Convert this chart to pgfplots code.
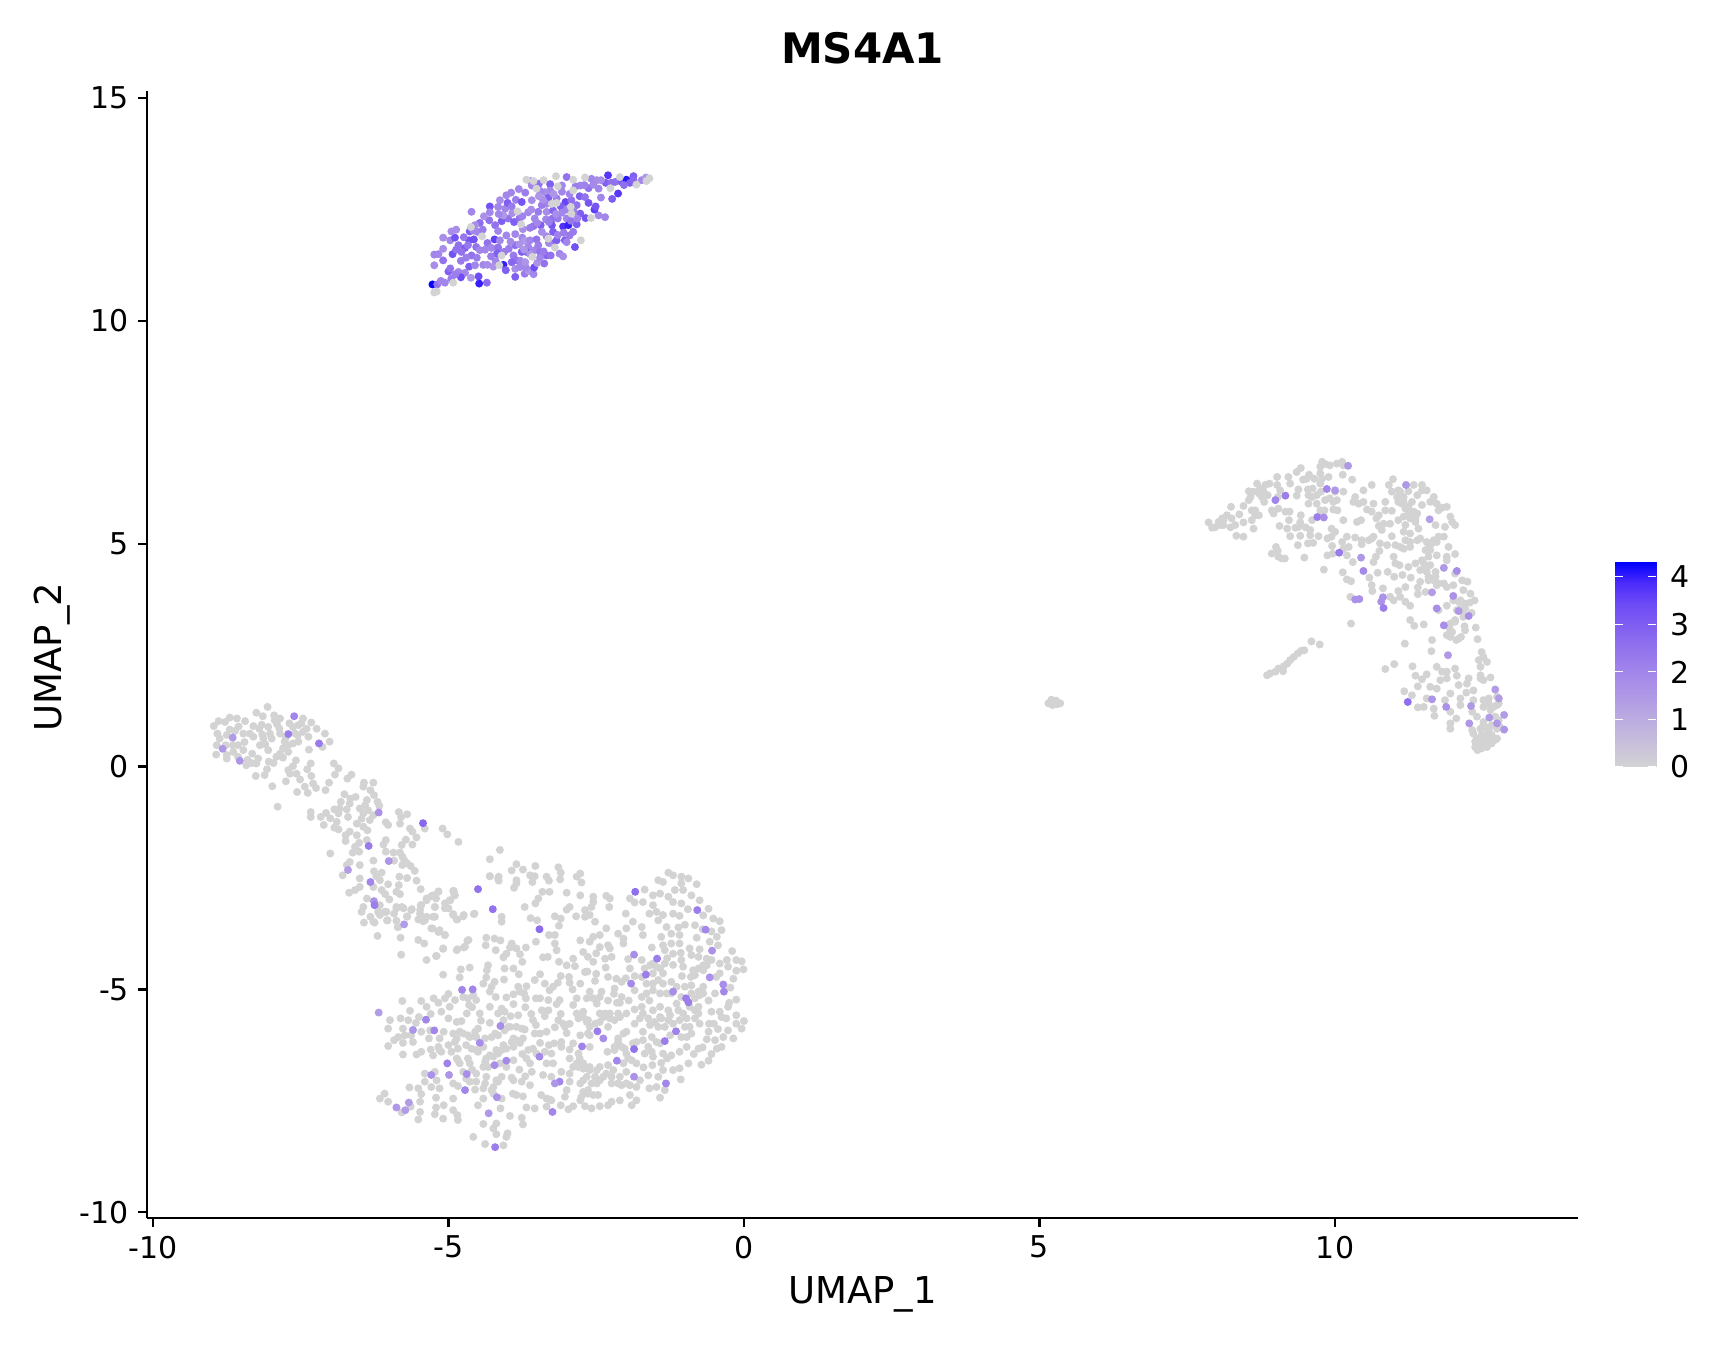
\documentclass[border=0pt]{standalone}
\usepackage{fontspec}
\setmainfont{DejaVu Sans}
\usepackage{pgfplots}
\pgfplotsset{compat=1.18}
\definecolor{lgray}{RGB}{211,211,211}
\pgfplotsset{
  colormap={seurat}{rgb255(0cm)=(211,211,211) rgb255(2cm)=(191,177,223) rgb255(4cm)=(170,144,232)
    rgb255(6cm)=(144,112,238) rgb255(8cm)=(108,74,246) rgb255(9cm)=(75,42,251) rgb255(10cm)=(0,0,255)},
}
\begin{document}
\begin{tikzpicture}
\path[use as bounding box] (-73.5pt,-63pt) rectangle (790.5pt,609pt);
\begin{axis}[
    scale only axis,
    width=715.5pt, height=563.25pt,
    xmin=-10.1, xmax=14.11,
    ymin=-10.13, ymax=15.15,
    axis lines=left,
    axis line style={-, line width=1.15pt},
    tick align=outside,
    major tick length=4.5pt,
    tick style={black, line width=1.1pt},
    xtick={-10,-5,0,5,10}, xticklabels={-10,-5,0,5,10},
    ytick={-10,-5,0,5,10,15}, yticklabels={-10,-5,0,5,10,15},
    tick label style={font=\fontsize{15}{18}\selectfont},
    xticklabel style={yshift=-1pt},
    yticklabel style={xshift=-1pt},
    title={MS4A1},
    title style={font=\fontsize{21}{25}\selectfont\bfseries, at={(axis description cs:0.5,1)}, anchor=center, yshift=15.75pt},
    xlabel={UMAP\_1},
    xlabel style={font=\fontsize{18.5}{22}\selectfont, at={(axis description cs:0.5,0)}, anchor=center, yshift=-38pt},
    ylabel={UMAP\_2},
    ylabel style={font=\fontsize{18.5}{22}\selectfont, at={(axis description cs:-0.066,0.498)}, anchor=center},
    colormap name=seurat,
    point meta min=0, point meta max=4.31,
]
% unexpressing cells
\addplot[only marks, mark=*, mark size=2pt, color=lgray, mark options={draw opacity=0}] coordinates {
% right arc
(7.86,5.48)(7.92,5.36)(7.97,5.37)(8.03,5.49)(8.09,5.57)(8.11,5.42)(8.17,5.64)(8.24,5.83)(8.25,5.57)(8.23,5.37)(8.31,5.42)(8.33,5.18)(8.45,5.16)
(8.38,5.66)(8.45,5.48)(8.45,5.85)(8.54,5.98)(8.54,6.18)(8.59,5.75)(8.59,5.53)(8.62,5.34)(8.65,5.64)(8.71,5.64)(8.68,6.35)(8.71,6.13)(8.79,6.17)
(8.82,6.32)(8.89,6.35)(8.86,6.09)(8.80,5.94)(8.93,5.75)(9.04,5.79)(8.96,5.68)(9.02,6.5)(9.02,6.32)(9.07,6.2)(9.03,6.05)(9.21,6.5)(9.24,6.35)
(9.16,5.72)(9.23,5.72)(9.22,5.53)(9.06,5.40)(9.19,5.34)(9.24,5.17)(9.35,6.61)(9.42,6.70)(9.38,6.22)(9.35,6.08)(9.46,6.44)(9.52,6.46)(9.56,6.55)
(9.54,6.22)(9.62,6.24)(9.65,6.46)(9.55,6.09)(9.55,5.90)(9.42,5.64)(9.41,5.48)(9.38,5.38)(9.33,5.36)(9.41,5.18)(9.37,4.97)(9.50,5.37)(9.58,5.31)
(9.61,5.53)(9.58,5.19)(9.54,5.01)(9.63,5.02)(9.72,5.17)(9.75,6.58)(9.78,6.84)(9.75,6.73)(9.83,6.79)(9.91,6.76)(10.03,6.80)(10.12,6.84)(10.14,6.76)
(10.13,6.55)(10.29,6.44)(9.89,6.50)(9.78,6.46)(9.75,6.35)(9.61,6.05)(9.69,6.09)(9.69,5.90)(9.76,6.17)(9.83,5.98)(9.91,6.02)(10.0,6.17)(10.14,6.17)
(9.97,5.94)(10.03,5.98)(9.97,5.77)(10.04,5.75)(9.75,5.75)(9.82,5.75)(9.78,5.64)(10.14,5.53)(9.94,5.34)(10.0,5.27)(9.87,5.12)(9.94,5.16)(9.95,4.95)
(9.87,4.74)(9.96,4.78)(9.48,4.69)(9.10,4.67)(9.15,4.67)(9.04,4.71)(8.93,4.78)(9.0,4.93)(9.03,4.84)(10.12,5.04)(10.2,5.16)(10.34,5.14)(10.45,5.08)
(10.45,4.99)(10.23,4.93)(10.14,4.89)(10.2,4.74)(10.3,4.59)(10.65,4.59)(10.69,4.71)(10.75,4.84)(10.76,5.01)(10.62,5.12)(10.57,5.08)(10.65,5.16)
(10.96,5.17)(10.88,4.97)(11.02,4.97)(11.1,4.93)(11.19,5.08)(11.27,5.04)(11.39,5.08)(11.44,5.12)(11.55,5.04)(11.64,5.01)(11.72,5.04)(11.75,5.16)
(11.84,5.16)(11.92,4.93)(12.03,4.77)(11.89,4.71)(11.72,4.74)(11.58,4.71)(11.53,4.86)(11.27,4.93)(11.16,4.89)(10.99,4.71)(11.02,4.56)(11.09,4.52)
(11.24,4.48)(11.36,4.56)(11.47,4.63)(11.61,4.52)(11.44,4.41)(11.55,4.45)(11.58,4.26)(11.70,4.26)(11.89,4.63)(12.03,4.33)(12.15,4.18)(12.24,4.15)
(11.89,4.03)(12.0,4.07)(12.17,3.96)(12.29,3.88)(12.36,3.73)(12.28,3.68)(12.0,3.73)(12.09,3.70)(11.89,3.61)(11.75,3.51)(12.12,3.55)(12.2,3.55)
(12.31,3.45)(12.17,3.36)(11.95,3.21)(12.03,3.29)(12.19,3.15)(12.2,3.06)(12.38,3.12)(11.92,3.14)(11.98,3.02)(11.89,2.95)(11.95,2.91)(12.05,2.84)
(12.13,2.91)(12.41,2.86)(10.34,6.05)(10.31,5.94)(10.4,5.9)(10.48,6.2)(10.62,6.32)(10.48,5.94)(10.65,5.9)(10.54,5.77)(10.62,5.72)(10.74,5.64)
(10.85,5.94)(10.85,5.75)(10.96,5.74)(10.70,5.57)(10.37,5.49)(10.44,5.53)(10.74,5.40)(10.82,5.45)(10.93,5.45)(10.79,5.31)(10.91,6.32)(10.98,6.45)
(10.96,6.17)(11.07,6.2)(11.05,6.05)(11.16,6.05)(11.24,6.18)(11.33,6.32)(11.47,6.32)(11.39,6.09)(11.47,6.2)(11.55,6.2)(11.61,5.94)(11.67,6.05)
(11.72,5.9)(11.07,5.94)(11.13,5.9)(11.19,5.79)(11.3,5.94)(11.24,5.68)(11.39,5.68)(11.47,5.87)(11.07,5.53)(11.16,5.61)(11.27,5.57)(11.36,5.49)
(11.16,5.27)(11.27,5.23)(11.41,5.34)(11.70,5.42)(11.86,5.38)(12.03,5.42)(11.95,5.61)(11.98,5.49)(11.89,5.83)(11.75,5.75)(11.81,5.81)
(11.27,3.29)(11.34,3.16)(11.5,3.19)(11.18,2.76)(11.64,2.84)(11.63,2.59)(12.48,2.57)(12.43,2.39)(12.57,2.35)(12.46,2.24)(12.46,2.05)(12.51,1.94)
(12.63,2.0)(10.85,2.19)(11.0,2.3)(11.31,2.25)(11.72,2.24)(12.03,2.2)(11.36,2.04)(11.55,2.07)(11.47,1.96)(11.81,2.13)(11.89,2.13)(11.78,1.94)
(11.89,1.98)(12.06,2.04)(11.72,1.75)(11.61,1.79)(11.40,1.8)(11.17,1.69)(11.3,1.6)(11.55,1.53)(11.67,1.3)(11.40,1.33)(11.5,1.34)(11.68,1.14)
(11.86,1.49)(11.95,1.23)(12.09,1.83)(12.23,1.86)(12.26,1.98)(12.22,1.66)(11.95,1.64)(12.12,1.53)(12.12,1.38)(12.05,1.08)(11.95,.97)(11.95,.85)
(12.34,1.71)(12.34,1.49)(12.51,1.49)(12.6,1.53)(12.74,1.57)(12.57,1.42)(12.51,1.34)(12.74,1.38)(12.32,1.23)(12.4,1.12)(12.51,1.0)(12.54,.89)
(12.46,.85)(12.65,.93)(12.79,.89)(12.77,1.04)(12.32,.82)(12.34,.74)(12.37,.56)(12.37,.44)(12.41,.37)(12.48,.41)(12.57,.44)(12.65,.52)(12.74,.63)
(12.46,.6)(12.54,.6)(12.63,.67)(12.48,.71)(12.57,.74)
(8.85,2.05)(8.9,2.09)(8.99,2.13)(9.04,2.2)(9.12,2.14)(9.13,2.25)(9.19,2.31)(9.24,2.39)(9.3,2.46)(9.37,2.54)(9.43,2.6)(9.48,2.61)(9.6,2.81)(9.74,2.74)(10.27,3.21)
(9.81,4.42)(10.13,4.36)(10.2,4.2)(10.27,4.16)(10.58,4.24)(10.62,4.07)(10.63,3.94)(10.72,4.35)(10.89,4.37)(11,4.26)(11.14,4.3)(11.28,4.24)(10.81,4.0)
(11.19,4.03)(11.07,3.94)(11.4,4.02)(11.44,4.15)(11.4,3.87)(11.53,3.92)(10.93,3.81)(10.99,3.73)(11.1,3.81)(11.19,3.7)(11.27,3.61)(10.26,3.81)(11.75,4.11)
(11.1,6.17)(11.16,5.94)(11.24,5.83)(11.33,5.72)(11.36,5.57)(11.19,5.42)(11.58,5.01)(11.67,5.08)(11.61,4.86)(11.5,4.56)(11.55,4.37)(11.7,4.37)(11.67,4.18)
(11.58,4.18)(11.72,4.07)(11.84,4.11)(12.12,3.73)(12.2,3.66)(12.17,3.51)(12.06,3.51)(12.03,3.25)(11.95,3.06)(12.09,2.87)(12.51,2.46)(12.46,1.98)(12.6,1.42)
(12.68,1.34)(12.77,1.42)(12.63,1.27)(12.71,1.12)(12.51,.93)(12.6,.82)(12.74,.85)(12.65,.71)(12.51,.48)(12.43,.48)(12.63,.56)(12.71,.6)(12.4,.63)
(8.11,5.53)(8.06,5.42)(8.65,5.75)(8.57,6.05)(8.62,6.17)(8.73,6.24)(8.76,6.05)
% small island
(5.15,1.42)(5.2,1.5)(5.25,1.45)(5.3,1.4)(5.35,1.42)(5.22,1.38)(5.28,1.48)
% left tail
(-8.06,1.34)(-8.25,1.21)(-8.14,1.13)(-7.95,1.15)(-7.85,1.08)(-7.94,1.04)(-7.46,1.08)(-7.32,.99)(-7.49,.97)(-7.23,.85)(-7.09,.74)(-7.4,.85)(-7.54,.93)
(-7.69,.97)(-7.63,.89)(-7.86,.85)(-8.05,.89)(-8.16,.94)(-8.3,.91)(-8.44,1.02)(-8.58,1.08)(-8.70,1.10)(-8.78,1.0)(-8.89,1.02)(-8.97,.91)(-8.91,.74)
(-8.87,.63)(-8.75,.71)(-8.70,.83)(-8.61,.80)(-8.47,.74)(-8.36,.74)(-8.3,.67)(-8.13,.63)(-8.19,.48)(-8.02,.74)(-7.99,.63)(-7.85,.74)(-7.77,.56)
(-7.71,.48)(-7.8,.41)(-7.71,.33)(-7.54,.56)(-7.63,.52)(-7.46,.78)(-7.37,.67)(-7.01,.56)(-7.13,.44)(-7.36,.38)(-8.92,.48)(-8.93,.27)(-8.77,.48)
(-8.75,.26)(-8.75,.18)(-8.64,.33)(-8.56,.48)(-8.47,.37)(-8.56,.22)(-8.32,.29)(-8.42,.03)(-8.33,.08)(-8.25,.07)(-8.22,.18)(-8.05,.37)(-7.85,.29)
(-7.91,.22)(-8.04,.11)(-7.96,.08)(-7.58,.14)(-7.33,.07)(-8.07,-.06)(-8.11,-.19)(-8.26,-.21)(-7.98,-.44)(-7.75,-.33)(-7.71,-.08)(-7.63,.01)(-7.68,-.16)
(-7.57,-.16)(-7.51,-.29)(-7.56,-.57)(-7.38,-.59)(-7.43,-.45)(-7.39,-.06)(-7.32,-.21)(-7.29,-.38)(-7.24,-.48)(-7.02,-.36)(-7.08,-.53)(-6.94,.07)
(-6.86,-.04)(-6.92,-.18)(-6.64,-.18)(-6.71,-.27)(-6.43,-.36)(-6.44,-.45)(-6.27,-.36)(-6.32,-.53)(-6.26,-.64)(-6.76,-.62)(-6.82,-.79)(-6.66,-.72)
(-6.57,-.68)(-6.67,-.83)(-6.38,-.75)(-6.2,-.79)(-6.17,-.88)(-7.89,-.9)(-7.33,-1.02)(-7.33,-1.13)(-7.16,-1.13)(-7.07,-1.04)(-7.0,-1.16)(-7.11,-1.31)
(-6.93,-.96)(-6.86,-1.05)(-6.84,-.94)(-6.72,-.96)(-6.7,-1.13)(-6.89,-1.24)(-6.93,-1.37)(-6.86,-1.41)(-6.5,-.94)(-6.41,-.87)(-6.36,-.98)(-6.44,-1.05)
(-6.27,-1.09)(-6.33,-1.2)(-6.47,-1.17)(-6.55,-1.28)(-6.44,-1.35)(-6.37,-1.43)(-6.74,-1.54)(-6.74,-1.67)(-6.67,-1.46)(-6.55,-1.54)(-6.38,-1.65)
(-6.51,-1.71)(-6.58,-1.8)(-6.62,-1.93)(-6.51,-1.91)(-7.0,-1.95)(-6.67,-2.14)(-6.72,-2.21)(-6.79,-2.44)(-6.5,-2.21)(-6.27,-2.11)(-6.26,-2.35)
(-6.13,-2.38)(-6.22,-2.46)(-6.5,-2.51)(-6.5,-2.7)(-6.58,-2.77)(-6.68,-2.83)(-6.27,-2.7)(-6.16,-2.55)(-6.02,-2.64)(-6.13,-2.77)(-6.07,-2.86)(-6.0,-2.98)
(-5.84,-2.66)(-5.88,-2.81)(-5.82,-2.86)(-5.83,-2.47)(-5.7,-2.5)(-5.54,-2.56)(-5.47,-2.75)(-6.38,-2.96)(-6.44,-3.15)(-6.47,-3.26)(-6.32,-3.37)
(-6.43,-3.5)(-6.25,-3.5)(-6.16,-3.11)(-6.16,-3.33)(-6.05,-3.26)(-6.03,-3.45)(-5.88,-3.15)(-5.76,-3.18)(-5.62,-3.2)(-5.92,-3.3)(-5.88,-3.46)(-5.86,-3.6)
(-5.7,-3.37)(-5.51,-3.43)(-5.43,-3.47)(-5.47,-3.11)(-5.48,-3.3)(-5.37,-3.37)(-5.23,-3.37)(-5.37,-3.0)(-5.29,-2.91)(-5.21,-2.96)(-5.17,-2.81)
(-5.23,-3.15)(-5.06,-3.18)(-4.97,-3.0)(-4.91,-2.79)(-4.9,-2.88)(-4.92,-3.31)(-4.86,-3.43)(-4.75,-3.36)(-4.57,-3.31)(-4.3,-2.08)(-4.3,-2.46)(-4.16,-2.51)
(-4.13,-1.87)(-6.2,-3.8)(-5.81,-3.84)(-5.8,-4.22)(-5.51,-3.89)(-5.41,-3.97)(-5.27,-3.63)(-5.17,-3.71)(-5.06,-3.78)(-5.09,-4.08)(-4.86,-4.12)(-4.72,-4.04)
(-4.66,-3.89)(-5.37,-4.34)(-5.2,-4.25)(-5.84,-1.02)(-5.7,-1.07)(-5.8,-1.13)(-5.82,-1.28)(-6.02,-1.31)(-6.06,-1.25)(-5.65,-1.39)(-5.61,-1.46)(-5.54,-1.59)
(-5.72,-1.64)(-5.79,-1.76)(-5.61,-1.75)(-5.4,-1.39)(-5.1,-1.39)(-5.02,-1.52)(-4.83,-1.69)(-6.06,-1.65)(-6.1,-1.75)(-6.06,-1.91)(-5.93,-1.93)(-5.82,-1.93)
(-5.78,-2.02)(-5.75,-2.1)(-5.7,-2.17)(-5.64,-2.23)(-5.57,-2.34)(-5.92,-2.11)(-5.78,-2.21)
(-8.55,.9)(-8.45,.55)(-8.2,.85)(-8.15,.72)(-7.9,.95)(-7.75,.65)(-7.6,.75)(-7.55,.7)(-7.8,.2)(-8.1,.5)(-8.4,.15)(-8.65,.48)
% lower body
(-3.85,-2.19)(-3.93,-2.33)(-3.74,-2.31)(-3.53,-2.23)(-3.14,-2.26)(-3.1,-2.38)(-2.77,-2.4)(-2.83,-2.47)(-2.75,-2.6)(-4.3,-2.46)(-4.15,-2.47)(-4.15,-2.56)
(-3.85,-2.55)(-3.85,-2.62)(-3.89,-2.72)(-3.62,-2.44)(-3.54,-2.46)(-3.58,-2.59)(-3.34,-2.47)(-3.3,-2.56)(-3.11,-2.53)(-3.0,-2.83)(-2.77,-2.89)(-3.29,-2.81)
(-3.41,-2.81)(-3.48,-2.96)(-3.53,-3.07)(-3.71,-3.15)(-2.95,-3.15)(-3.0,-3.21)(-2.55,-2.92)(-2.55,-3.04)(-2.58,-3.15)(-2.33,-2.9)(-2.27,-2.96)(-2.28,-3.15)
(-2.69,-3.22)(-2.69,-3.37)(-2.61,-3.33)(-2.84,-3.36)(-2.52,-3.48)(-3.2,-3.36)(-3.1,-3.41)(-3.13,-3.57)(-3.61,-3.4)(-3.5,-3.45)(-4.1,-3.37)(-4.1,-3.48)
(-4.56,-3.3)(-4.74,-3.33)(-4.85,-3.43)(-4.92,-3.33)(-4.92,-2.79)(-4.89,-2.89)(-5.17,-2.8)(-5.26,-2.89)(-5.37,-2.96)(-4.98,-3.0)(-5.06,-3.07)(-5.0,-3.18)
(-5.23,-3.15)(-5.46,-3.11)(-5.48,-3.22)(-5.26,-3.37)(-5.48,-3.41)(-5.4,-3.45)(-5.63,-3.22)(-5.79,-3.15)(-5.88,-3.18)(-6.08,-3.26)(-6.19,-3.26)(-6.27,-3.48)
(-6.04,-3.45)(-5.85,-3.6)(-5.7,-3.36)(-5.29,-3.63)(-5.15,-3.67)(-5.06,-3.78)(-5.09,-4.09)(-4.85,-4.1)(-4.74,-4.06)(-4.68,-3.91)(-5.21,-4.25)
(-4.36,-3.84)(-4.37,-4.01)(-4.22,-3.86)(-4.12,-3.9)(-4.2,-4.12)(-3.93,-3.97)(-3.96,-4.06)(-3.85,-4.08)(-3.69,-4.06)(-4.02,-4.2)(-4.07,-4.28)(-3.79,-4.21)
(-3.75,-4.38)(-3.52,-3.93)(-3.2,-3.78)(-3.3,-3.78)(-3.2,-3.97)(-3.17,-4.12)(-3.4,-4.28)(-3.32,-4.27)(-3.13,-4.38)(-3.0,-4.46)(-2.86,-4.48)(-2.89,-4.31)
(-2.77,-3.9)(-2.61,-3.93)(-2.55,-3.82)(-2.44,-3.78)(-2.33,-3.63)(-2.72,-4.16)(-2.64,-4.27)(-2.5,-4.19)(-2.44,-4.05)(-2.3,-4.01)(-2.27,-4.08)(-2.55,-4.38)
(-2.35,-4.31)(-2.24,-4.27)(-2.34,-4.51)(-2.13,-3.75)(-2.04,-3.86)(-2.04,-3.97)(-1.99,-3.63)(-1.88,-3.48)(-2.0,-3.3)(-1.73,-3.6)(-1.71,-3.78)(-1.93,-2.96)
(-1.85,-3.05)(-1.68,-2.76)(-1.71,-3.04)(-1.54,-2.89)(-1.42,-2.85)(-1.45,-2.55)(-1.37,-2.59)(-1.28,-2.38)(-1.2,-2.44)(-1.06,-2.47)(-.94,-2.51)(-1.06,-2.62)
(-.8,-2.64)(-1.03,-2.77)(-1.17,-2.77)(-.89,-2.89)(-.75,-3.0)(-1.28,-2.92)(-1.2,-3.04)(-1.06,-3.07)(-1.54,-3.11)(-1.48,-3.26)(-1.37,-3.33)(-1.6,-3.3)
(-1.45,-3.45)(-1.09,-3.35)(-1.31,-3.6)(-1.11,-3.61)(-1.23,-3.75)(-1.40,-3.82)(-1.09,-3.78)(-1.37,-4.01)(-1.23,-3.97)(-1.09,-3.97)(-1.56,-4.06)(-1.34,-4.12)
(-1.2,-4.2)(-1.07,-4.18)(-.92,-4.08)(-.89,-4.23)(-.75,-4.1)(-.77,-4.27)(-.83,-3.56)(-.8,-3.84)(-.58,-3.93)(-.46,-3.82)(-.38,-3.67)(-.41,-3.47)(-.52,-3.41)
(-.6,-3.19)(-.69,-3.34)(-.2,-4.14)(-.44,-4.01)(-.63,-4.31)(-.55,-4.34)
(-4.33,-4.46)(-4.35,-4.57)(-4.64,-4.51)(-4.79,-4.55)(-4.81,-4.73)(-5.09,-4.67)(-4.36,-4.73)(-4.41,-4.87)(-4.22,-4.83)(-4.27,-4.94)(-4.3,-5.05)(-4.2,-5.17)
(-4.05,-4.53)(-3.9,-4.53)(-3.81,-4.66)(-4.06,-4.78)(-3.45,-4.66)(-3.54,-4.79)(-3.37,-4.87)(-3.23,-4.94)(-3.29,-5.02)(-3.68,-4.93)(-3.82,-4.94)(-3.79,-5.05)
(-3.72,-5.09)(-3.9,-5.11)(-4.02,-5.18)(-3.69,-5.2)(-3.9,-5.33)(-3.52,-5.2)(-3.45,-5.2)(-3.12,-5.24)(-3.17,-5.33)(-3.31,-5.24)(-2.96,-4.72)(-2.95,-4.85)
(-2.77,-4.87)(-2.69,-4.61)(-2.52,-4.81)(-2.3,-4.72)(-2.16,-4.76)(-2.07,-4.83)(-2.19,-4.98)(-2.61,-5.05)(-2.41,-5.05)(-2.44,-5.17)(-2.55,-5.2)(-2.66,-5.2)
(-2.83,-5.2)(-2.89,-5.35)(-2.49,-5.32)(-2.07,-5.17)(-2.1,-5.3)(-1.85,-5.02)(-1.93,-4.53)(-1.96,-4.32)(-1.73,-4.34)(-1.59,-4.46)(-1.48,-4.49)(-1.34,-4.42)
(-1.54,-4.64)(-1.68,-4.53)(-1.73,-4.72)(-1.45,-4.79)(-1.65,-4.87)(-1.37,-4.64)(-1.23,-4.83)(-1.14,-4.94)(-1.0,-4.94)(-.89,-4.91)(-1.03,-4.49)(-1.06,-4.34)
(-.77,-4.53)(-.69,-4.46)(-.83,-4.68)(-.41,-4.42)(-.29,-4.34)(-.13,-4.34)(-.04,-4.37)(-.01,-4.55)(-.13,-4.58)(-.27,-4.49)(-.41,-4.64)(-.18,-4.76)(-.23,-4.96)
(-.47,-4.72)(-.69,-4.94)(-.77,-5.05)(-.69,-5.09)(-.83,-5.2)(-.49,-5.09)(-.13,-5.23)(-.27,-5.39)(-.55,-5.5)(-.41,-5.5)(-.38,-5.62)(-.13,-5.58)(-.0,-5.71)
(-.13,-5.77)(-.27,-5.92)(-.04,-5.88)(-.44,-5.89)(-.18,-6.1)(-.35,-6.07)(-.49,-6.14)(-.63,-6.12)(-.46,-6.33)(-.38,-6.29)(-.59,-5.77)(-.51,-5.77)(-.75,-5.77)
(-.92,-5.84)(-.89,-5.99)(-.97,-5.65)(-.77,-5.54)(-.83,-5.47)(-1.03,-5.54)(-1.11,-5.47)(-1.25,-5.58)(-1.42,-5.62)(-1.54,-5.47)(-1.71,-5.54)(-1.85,-5.77)
(-1.59,-5.8)(-1.45,-5.84)(-1.34,-5.84)(-1.71,-5.95)(-1.56,-6.07)(-1.42,-6.21)(-1.99,-5.95)(-2.13,-5.54)(-2.27,-5.54)(-2.35,-5.54)(-2.19,-5.69)(-2.3,-5.84)
(-2.44,-5.73)(-2.66,-5.73)(-2.61,-5.84)(-2.83,-5.54)(-2.72,-5.5)(-2.95,-5.77)(-3.03,-5.84)(-3.14,-5.69)(-3.31,-5.47)(-3.42,-5.47)(-3.37,-5.6)(-3.57,-5.69)
(-3.52,-5.8)(-3.82,-5.58)(-3.85,-5.84)(-3.71,-5.9)(-3.96,-5.84)(-4.1,-5.43)(-4.3,-5.39)(-4.16,-5.54)(-4.07,-5.69)(-4.47,-5.54)(-4.53,-5.24)(-4.58,-5.13)
(-4.67,-5.2)(-4.75,-5.17)(-4.89,-5.24)(-5.06,-5.2)(-5.17,-5.3)(-4.98,-5.39)(-5.12,-5.5)(-5.0,-5.65)(-4.86,-5.73)(-4.78,-5.71)(-4.69,-5.54)(-5.46,-5.26)
(-5.37,-5.39)(-5.78,-5.26)(-5.65,-5.48)(-5.81,-5.65)(-5.99,-5.69)(-6.02,-5.88)(-5.77,-5.88)(-5.68,-5.69)(-5.5,-5.62)(-5.46,-5.95)(-5.31,-5.92)(-5.63,-6.03)
(-5.74,-6.03)(-5.85,-6.07)(-5.92,-6.14)(-5.77,-6.2)(-5.6,-6.18)(-5.33,-6.1)(-5.15,-6.1)(-5.08,-5.95)(-6.02,-6.27)(-5.77,-6.46)(-5.54,-6.46)(-5.46,-6.4)
(-5.26,-6.48)(-5.17,-6.29)(-5.12,-6.4)(-4.92,-5.99)(-4.81,-5.95)(-4.89,-6.18)(-4.67,-6.03)(-4.53,-6.07)(-4.5,-5.88)(-4.27,-6.07)(-4.16,-6.03)(-4.05,-5.92)
(-3.9,-6.1)(-3.74,-6.1)(-3.79,-6.2)(-3.9,-6.29)(-4.02,-6.33)(-4.16,-6.44)(-4.3,-6.48)(-4.41,-6.29)(-4.5,-6.4)(-4.61,-6.33)(-4.84,-6.59)(-4.67,-6.55)
(-4.38,-6.63)(-4.33,-6.74)(-4.13,-6.66)(-3.9,-6.59)(-4.02,-6.74)(-3.65,-6.36)(-3.57,-6.33)(-3.68,-6.55)(-3.51,-6.44)(-3.62,-6.66)(-3.59,-6.85)(-3.37,-6.4)
(-3.26,-6.44)(-3.21,-6.21)(-3.09,-6.18)(-3.09,-6.29)(-2.89,-6.21)(-2.77,-6.03)(-2.64,-5.99)(-2.61,-6.29)(-2.8,-6.44)(-2.89,-6.74)(-2.8,-6.74)(-2.72,-6.66)
(-2.95,-6.89)(-3.09,-6.85)(-3.34,-6.66)(-3.23,-6.66)(-3.4,-6.92)(-3.26,-6.96)(-2.95,-7.07)(-2.72,-7.04)(-2.77,-7.11)(-2.61,-6.81)(-2.44,-6.74)(-2.3,-6.7)
(-2.21,-6.81)(-2.04,-6.66)(-1.9,-6.59)(-1.82,-6.66)(-1.99,-6.44)(-2.07,-6.29)(-2.19,-6.36)(-2.31,-6.4)(-1.88,-6.21)(-1.68,-6.44)(-1.54,-6.51)(-1.37,-6.44)
(-1.23,-6.48)(-1.09,-6.4)(-.97,-6.29)(-.77,-6.33)(-.72,-6.69)(-.6,-6.6)(-.94,-6.66)(-1.09,-6.77)(-1.2,-6.81)(-1.37,-6.81)(-1.45,-6.96)(-1.62,-6.93)(-1.76,-7.04)
(-1.6,-7.22)(-1.48,-7.19)(-1.34,-7.26)(-1.07,-7.02)(-1.42,-7.43)(-1.93,-7.37)(-1.82,-7.49)(-1.9,-7.6)(-2.1,-7.49)(-2.07,-7.15)(-1.93,-7.15)(-2.24,-7.11)
(-2.38,-6.96)(-2.49,-7.11)(-2.64,-7.26)(-2.47,-7.37)(-2.75,-7.41)(-2.77,-7.49)(-2.69,-7.62)(-2.58,-7.67)(-2.44,-7.62)(-2.3,-7.6)(-2.24,-7.52)(-2.89,-7.62)
(-2.97,-7.69)(-3.1,-7.6)(-3.0,-7.26)(-3.03,-7.41)(-3.34,-7.63)(-3.29,-7.47)(-3.43,-7.37)(-3.54,-7.67)(-3.68,-7.65)(-3.74,-7.4)(-3.91,-7.34)(-3.62,-7.15)
(-3.76,-7.07)(-3.93,-6.98)(-4.1,-6.96)(-4.16,-7.07)(-4.24,-7.19)(-4.36,-6.96)(-4.53,-6.89)(-4.53,-7.07)(-4.41,-7.22)(-4.55,-7.25)(-4.24,-7.34)(-4.41,-7.45)
(-4.5,-7.6)(-4.1,-7.45)(-4.12,-7.67)(-3.96,-7.84)(-3.76,-7.88)(-3.74,-8.03)(-4.41,-8.02)(-4.19,-8.01)(-4.24,-8.12)(-4.19,-8.25)(-4.0,-8.23)(-4.02,-8.31)
(-4.58,-8.31)(-4.38,-8.47)(-4.07,-8.5)(-5.51,-7.22)(-5.66,-7.2)(-5.46,-7.35)(-5.48,-7.52)(-5.48,-7.75)(-5.51,-7.92)(-6.08,-7.34)(-6.16,-7.45)(-6.02,-7.52)
(-5.79,-7.76)(-5.64,-7.63)(-5.21,-7.43)(-5.21,-7.65)(-5.23,-7.8)(-5.08,-7.6)(-5.09,-7.9)(-4.92,-7.45)(-4.92,-7.71)(-4.85,-7.82)(-4.84,-7.93)(-5.4,-6.89)
(-5.23,-6.85)(-5.4,-7.07)(-5.29,-7.19)(-5.15,-7.22)(-5.2,-7.04)(-4.92,-7.11)(-4.84,-7.17)(-4.75,-6.85)
% denser parts of the lower body
(-1.76,-5.65)(-1.62,-5.65)(-1.51,-5.73)(-1.4,-5.65)(-1.28,-5.69)(-1.2,-5.77)(-1.09,-5.69)(-1.0,-5.84)(-.83,-5.65)(-1.06,-6.07)(-.97,-6.07)(-1.25,-6.03)
(-1.48,-6.18)(-1.62,-6.29)(-1.56,-6.4)(-1.71,-6.14)(-1.82,-6.18)(-2.13,-6.18)(-2.19,-6.29)(-2.02,-6.33)(-1.96,-6.55)(-1.99,-6.85)(-2.1,-6.96)(-2.13,-7.11)
(-1.99,-7.11)(-1.82,-7.19)(-2.72,-6.78)(-2.61,-6.74)(-2.49,-6.81)(-2.66,-6.96)(-2.52,-6.96)(-2.58,-7.11)(-2.44,-7.04)(-2.33,-6.89)(-2.24,-6.96)(-2.78,-6.55)
(-2.95,-6.55)(-2.83,-6.66)(-2.64,-7.34)(-2.55,-7.37)(-2.72,-7.3)(-3.34,-7.45)(-3.26,-7.49)(-3.9,-7.04)(-3.85,-7.37)(-4.19,-7.04)(-4.27,-7.26)(-4.38,-7.11)
(-4.64,-7.07)(-4.19,-6.36)(-4.1,-6.36)(-4.24,-6.51)(-4.36,-6.55)(-4.41,-6.74)(-4.64,-6.66)(-4.81,-6.66)(-4.86,-6.55)(-5.15,-6.36)(-4.84,-6.33)(-4.86,-6.1)
(-4.75,-5.99)(-4.64,-6.07)(-4.53,-6.36)(-4.38,-6.1)(-4.21,-5.99)(-3.99,-5.84)(-3.76,-5.88)(-3.93,-6.18)(-4.07,-6.25)(-3.85,-6.14)(-3.45,-5.99)(-3.34,-5.95)
(-3.54,-5.99)(-2.8,-5.65)(-2.72,-5.62)(-3.06,-5.77)(-2.64,-5.69)(-2.44,-5.54)(-2.38,-5.62)(-2.52,-5.77)(-2.61,-6.03)(-2.27,-5.65)(-2.1,-5.62)(-1.99,-5.54)
(-2.04,-5.99)(-2.13,-6.1)(-.69,-4.57)(-.63,-4.46)(-.86,-4.57)(-1.54,-4.42)(-1.42,-4.53)(-1.54,-4.87)(-1.65,-5.09)(-1.73,-5.17)(-1.54,-5.02)(-1.42,-5.09)
(-1.31,-5.09)(-1.37,-4.87)(-1.14,-5.32)(-1.06,-5.17)(-.89,-5.09)(-.75,-5.13)(-.92,-5.39)(-.77,-5.39)(-1.23,-5.09)(-1.28,-5.47)(-1.42,-5.39)(-1.73,-5.39)
(-3.1,-5.55)(-3.2,-5.85)(-3.0,-5.98)(-3.45,-6.2)(-3.3,-6.25)(-2.95,-6.35)(-4.6,-5.4)(-4.45,-5.7)(-4.3,-5.75)(-4.55,-5.95)(-4.05,-5.5)(-3.7,-5.4)(-3.6,-5.55)
(-3.95,-5.6)(-5.3,-5.55)(-5.25,-5.2)(-5.0,-5.1)(-4.65,-5.35)(-5.55,-5.75)(-5.3,-6.35)(-4.95,-6.4)(-5.0,-6.25)(-4.7,-6.25)(-3.75,-6.45)(-3.8,-6.8)(-3.7,-6.95)
(-4.6,-6.8)(-4.7,-7.0)(-2.15,-5.3)(-2.3,-5.25)(-2.2,-5.1)(-2.65,-4.6)(-2.5,-4.65)(-3.1,-4.7)(-3.15,-4.85)(-2.9,-5.0)(-1.85,-4.7)(-2.0,-4.75)(-.6,-5.25)(-.3,-5.65)
(-.25,-5.3)(-.6,-5.95)(-.7,-6.3)(-.85,-6.45)(-.55,-6.45)(-1.3,-6.55)(-1.4,-6.65)(-1.55,-6.7)(-1.7,-6.75)(-1.6,-5.25)(-1.85,-5.45)(-1.95,-5.25)(-1.3,-4.3)
(-1.2,-4.45)(-1.05,-4.7)(-.9,-4.72)(-1.2,-3.3)(-1.0,-3.55)(-.95,-3.2)(-.7,-3.65)(-.55,-3.7)
};
% expressing cells, colour by level
\addplot[scatter, only marks, mark=*, mark size=2pt, scatter/use mapped color={draw opacity=0, fill=mapped color}, point meta=explicit] coordinates {
(-5.27,10.82)[4.3](-5.19,10.82)[2.5](-5.06,10.86)[2](-5.0,11.11)[3](-5.24,11.25)[1.8](-5.09,11.36)[2.5](-5.24,11.49)[2](-5.17,11.5)[2](-5.09,11.62)[1.8]
(-4.93,11.5)[3.3](-5.09,11.87)[1.8](-4.97,11.81)[2](-4.89,11.87)[3.3](-4.95,12.01)[1.8](-4.87,12.05)[1.8](-4.83,11.7)[2.5](-4.72,11.64)[3](-4.78,11.55)[2.5]
(-4.79,11.35)[2.3](-4.65,11.81)[3.2](-4.64,12.01)[3](-4.61,12.45)[2](-4.51,12.0)[2](-4.47,12.2)[2.6](-4.57,11.83)[3.3](-4.53,11.66)[2.5](-4.47,11.59)[2]
(-4.61,11.47)[2.5](-4.52,11.42)[2.2](-4.65,11.22)[3](-4.55,11.25)[2](-4.41,11.26)[2](-4.34,11.26)[1.8](-4.83,11.1)[2](-4.72,11.08)[2](-4.79,10.98)[3.4]
(-4.95,10.95)[2.3](-4.62,10.97)[1.5](-4.49,11.0)[3.4](-4.48,10.84)[4](-4.35,10.86)[2.7](-4.3,12.57)[3.3](-4.3,12.44)[2](-4.31,12.26)[2.5](-4.22,11.83)[3.6]
(-4.34,11.75)[2.5](-4.27,11.64)[2](-4.16,11.65)[2.5](-4.06,11.55)[2.3](-4.16,11.51)[3](-4.21,12.15)[2.5](-4.16,12.02)[2](-4.1,12.24)[3](-3.99,12.3)[2.5]
(-3.89,12.22)[3](-3.8,12.3)[2.5](-3.74,12.06)[1.8](-4.07,12.37)[1.5](-4.13,12.71)[1.8](-4.16,12.56)[2](-4.04,12.52)[2](-4.0,12.65)[3](-3.93,12.57)[2.3]
(-4.02,12.82)[2](-3.94,12.88)[2](-3.81,12.96)[2](-3.7,12.88)[2.2](-3.86,12.72)[2.2](-3.76,12.67)[3.2](-3.65,12.44)[2](-3.59,12.71)[1.8](-3.61,13.14)[1.8]
(-3.59,13.04)[2](-3.47,13.08)[2.6](-3.28,13.07)[3](-3.0,13.23)[2.5](-3.08,13.04)[2](-3.28,12.93)[2](-3.37,12.89)[1.8](-3.45,12.92)[2](-3.31,12.76)[3]
(-3.17,12.75)[2.2](-3.34,12.63)[2](-3.02,12.67)[3.5](-2.92,12.71)[2.5](-3.1,12.57)[3](-2.83,12.6)[2.5](-3.42,12.6)[2.3](-3.48,12.45)[2.3](-3.34,12.45)[1.8]
(-3.23,12.48)[2.8](-3.08,12.43)[2](-2.77,12.41)[3](-3.54,12.3)[2](-3.35,12.28)[2](-3.24,12.3)[2.5](-3.0,12.3)[2](-2.68,12.31)[3.2](-2.46,12.37)[2](-2.35,12.33)[2]
(-2.53,12.5)[3.6](-2.51,12.57)[3.2](-2.63,12.65)[3.2](-2.42,12.77)[2](-2.78,12.8)[3](-2.69,12.78)[2.5](-2.77,13.04)[2](-2.58,13.19)[2](-2.46,12.97)[2]
(-2.63,12.98)[2.5](-2.49,13.16)[1.8](-2.34,13.1)[3](-2.18,13.12)[2.5](-2.13,12.86)[3.7](-2.23,12.74)[3](-2.3,13.27)[3.7](-2.07,13.12)[3](-1.99,13.17)[4.1]
(-1.87,13.25)[3](-1.93,13.1)[3](-1.73,13.16)[2](-1.66,13.22)[1.5](-1.87,13.16)[2.8](-3.56,12.13)[2.5](-3.44,12.15)[3](-3.25,12.15)[3.2](-3.06,12.12)[3.8]
(-2.97,12.15)[4](-2.83,12.17)[3](-2.89,12.0)[2.3](-3.23,12.0)[3](-3.34,11.9)[2](-3.62,12.09)[2.3](-3.75,11.87)[2](-3.87,11.95)[2](-4.02,11.92)[2](-4.13,11.81)[2]
(-3.87,11.7)[2.6](-3.71,11.8)[1.5](-3.62,11.81)[2](-3.51,11.83)[2.5](-3.65,11.66)[2](-3.17,11.81)[3](-3.03,11.81)[3](-3.0,11.77)[2](-2.86,11.66)[3.3]
(-3.23,11.74)[3](-3.54,11.59)[2](-3.45,11.55)[2.5](-3.68,11.55)[3](-3.76,11.55)[3](-3.9,11.47)[2.3](-3.85,11.36)[2.5](-3.93,11.32)[2.8](-3.87,11.17)[1.8]
(-4.07,11.26)[4](-4.2,11.34)[2](-4.18,11.51)[3](-4.03,11.14)[3](-3.87,10.99)[3](-3.71,11.06)[2.3](-3.65,11.12)[1.6](-3.56,11.05)[2](-3.55,11.2)[3.4]
(-3.38,11.29)[2.5](-3.34,11.47)[2.8](-3.27,11.47)[2.5](-3.12,11.51)[2](-3.06,11.45)[1.8](-3.39,11.56)[2.3](-3.79,11.21)[2](-3.69,11.2)[2]
(-5.13,10.9)[2](-4.88,11.05)[2.2](-4.97,11.18)[2.5](-4.7,11.42)[2.2](-4.87,11.6)[2.5](-4.67,11.7)[2.4](-4.74,11.88)[2.4](-4.58,12.03)[2](-4.55,12.15)[1.8](-4.42,12.05)[2.2]
(-4.38,11.6)[2](-4.28,11.45)[2.2](-4.24,11.22)[1.7](-3.98,11.62)[2.3](-3.95,11.78)[1.9](-3.8,11.72)[1.7](-3.72,11.6)[1.6](-3.62,11.5)[1.7](-3.78,11.35)[2](-3.7,11.32)[1.6]
(-3.5,11.3)[1.7](-3.45,11.42)[2](-3.48,11.7)[2.2](-3.3,11.75)[1.9](-3.15,11.93)[2.1](-3.05,11.98)[2.2](-2.95,11.92)[2.3](-3.42,12.0)[1.8](-3.5,12.2)[2](-3.3,12.22)[2.2]
(-3.15,12.3)[2.3](-2.93,12.25)[2.4](-2.82,12.3)[2](-3.18,12.4)[1.8](-3.0,12.5)[2.1](-2.88,12.45)[2.2](-3.4,12.72)[1.7](-3.47,12.8)[1.6](-3.22,12.85)[1.6](-3.08,12.9)[2]
(-2.95,12.85)[2.1](-2.85,13.02)[2.2](-2.7,13.05)[2.1](-2.55,13.06)[1.9](-2.42,13.16)[1.8](-2.25,13.1)[2.6](-2.03,13.05)[2.6](-3.6,12.5)[1.8](-3.75,12.35)[2.1](-3.92,12.42)[1.8]
(-4.4,12.35)[1.7](-4.15,12.4)[2]
% scattered expressers, right arc
(10.22,6.75)[1.5](9.16,6.08)[2.2](8.99,5.98)[2](9.86,6.23)[2](10.0,6.2)[1.5](9.7,5.6)[2.2](9.81,5.59)[1.8](11.2,6.32)[1.5](11.6,5.55)[1.3](10.07,4.8)[2.3]
(10.44,4.69)[1.5](10.48,4.39)[1.9](11.84,4.46)[1.5](12.06,4.39)[1.8](10.34,3.75)[1.7](10.41,3.76)[1.7](10.81,3.8)[1.7](10.78,3.7)[1.7](10.82,3.56)[2.2]
(11.64,3.91)[1.4](12.0,3.83)[1.7](11.72,3.55)[1.8](12.09,3.49)[1.5](12.26,3.38)[1.8](11.84,3.17)[1.8](11.91,2.5)[1.5](11.23,1.45)[2.6](11.64,1.51)[1.6]
(12.71,1.73)[1.4](12.77,1.53)[1.4](11.88,1.34)[1.7](12.3,1.36)[1.5](12.61,1.1)[1.4](12.86,1.16)[1.4](12.27,.97)[1.5](12.74,.97)[1.5](12.86,.83)[1.6]
% left tail
(-7.61,1.13)[2](-7.71,.73)[2.2](-7.19,.52)[2.3](-8.65,.65)[1.4](-8.82,.4)[1.5](-8.53,.13)[1.6](-6.18,-1.03)[1.7](-5.43,-1.27)[2.8](-6.35,-1.78)[2.3]
(-6.01,-2.12)[1.6](-6.7,-2.32)[1.4](-6.32,-2.59)[2](-6.26,-3.02)[1.7](-6.25,-3.11)[2.2](-5.75,-3.54)[1.4](-4.5,-2.75)[2.5](-4.25,-3.2)[2.5]
% lower body
(-1.84,-2.81)[2.6](-3.46,-3.65)[2.7](-.79,-3.22)[2.2](-.65,-3.66)[1.9](-.54,-4.13)[1.7](-1.86,-4.22)[1.8](-1.47,-4.31)[2.2](-1.66,-4.67)[2.2](-1.91,-4.87)[1.9]
(-.58,-4.73)[1.7](-.34,-5.05)[2](-.35,-4.89)[1.8](-.98,-5.2)[2.2](-.94,-5.29)[2.2](-1.2,-5.05)[1.8](-4.77,-5.01)[2](-4.59,-5.0)[2](-6.18,-5.52)[1.4]
(-5.38,-5.68)[2](-5.6,-5.91)[1.6](-5.24,-5.92)[2](-4.12,-5.82)[1.8](-4.47,-6.2)[1.8](-2.48,-5.94)[2.2](-2.38,-6.1)[1.8](-2.74,-6.28)[2.1](-1.15,-5.94)[2.1]
(-1.34,-6.16)[2.2](-1.86,-6.34)[2.5](-2.15,-6.6)[2](-3.46,-6.51)[1.9](-4.02,-6.6)[1.9](-5.02,-6.66)[2.1](-4.22,-6.7)[1.8](-5.29,-6.92)[1.7](-4.99,-6.92)[1.6]
(-4.69,-6.9)[1.8](-4.72,-7.26)[2](-3.12,-7.07)[2](-3.2,-7.11)[1.6](-1.86,-6.96)[1.7](-1.32,-7.11)[2](-4.18,-7.42)[1.7](-5.67,-7.54)[1.4](-5.88,-7.65)[1.5]
(-5.73,-7.71)[1.4](-4.32,-7.78)[1.5](-3.24,-7.75)[2](-4.21,-8.54)[2.2]
};
% grey cells drawn over the expressing cluster
\addplot[only marks, mark=*, mark size=2pt, color=lgray, mark options={draw opacity=0}] coordinates {
(-5.24,10.64)(-5.2,10.66)(-4.92,10.86)(-4.62,12.11)(-4.43,11.9)(-3.83,12.46)(-3.77,12.17)(-3.68,13.17)(-3.56,13.14)(-3.39,13.16)(-3.51,12.97)(-3.18,13.25)
(-3.15,13.02)(-3.25,12.63)(-3.17,12.65)(-2.93,12.56)(-2.92,12.41)(-2.59,12.31)(-2.89,12.93)(-2.89,13.17)(-2.69,13.22)(-2.26,12.98)(-2.1,13.23)(-1.82,13.06)
(-1.65,13.14)(-1.6,13.2)(-3.31,11.85)(-2.76,11.81)(-3.2,11.65)(-4.14,11.25)(-4.1,11.47)(-3.58,11.44)
};
\end{axis}
% colour key
\begin{axis}[
    at={(734pt,225.5pt)}, anchor=south west,
    scale only axis,
    width=20.5pt, height=102.5pt,
    xmin=0, xmax=1, ymin=0, ymax=4.31,
    colormap name=seurat,
    point meta min=0, point meta max=4.31,
    axis on top,
    axis line style={draw=none},
    xtick=\empty,
    ytick={0,1,2,3,4}, yticklabels={0,1,2,3,4},
    ytick pos=both, yticklabel pos=right,
    tick align=inside, major tick length=4pt,
    tick style={white, line width=0.5pt},
    yticklabel style={font=\fontsize{15}{18}\selectfont, xshift=3.5pt},
]
\addplot[surf, shader=interp, mesh/cols=2, point meta=y] coordinates {
(0,0)(1,0)
(0,4.31)(1,4.31)
};
\end{axis}
\end{tikzpicture}
\end{document}
